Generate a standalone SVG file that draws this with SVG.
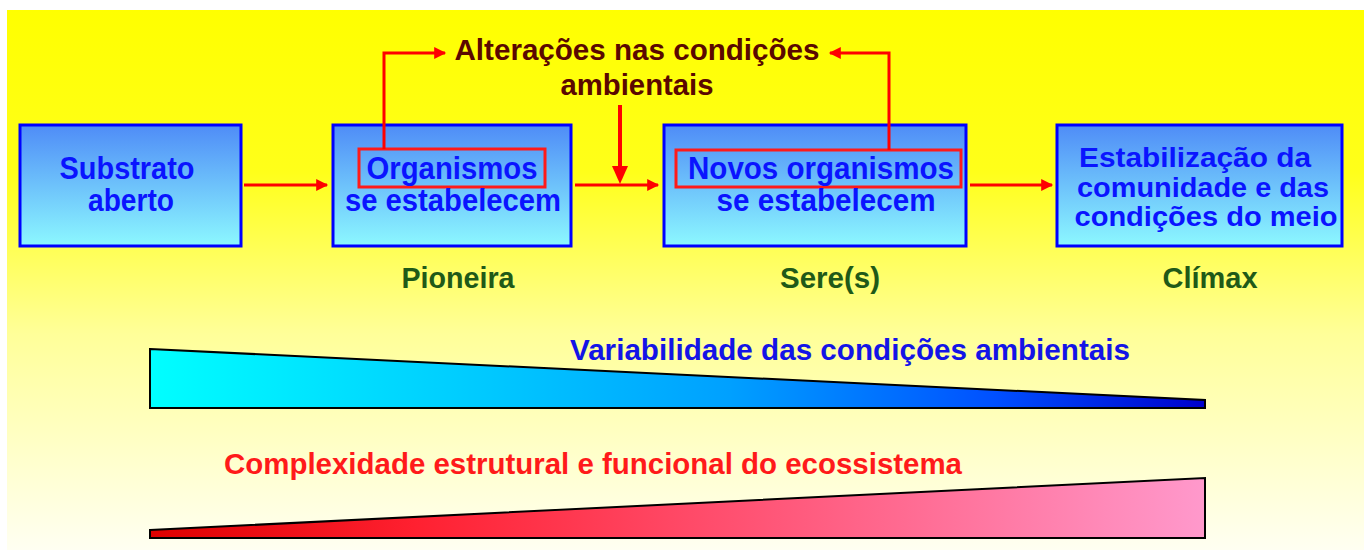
<svg xmlns="http://www.w3.org/2000/svg" width="1364" height="550" viewBox="0 0 1364 550">
<defs>
<linearGradient id="bg" x1="0" y1="0" x2="0" y2="1">
<stop offset="0" stop-color="#ffff00"/>
<stop offset="0.3" stop-color="#ffff1a"/>
<stop offset="0.6" stop-color="#ffff99"/>
<stop offset="1" stop-color="#fffff2"/>
</linearGradient>
<linearGradient id="boxg" x1="0" y1="0" x2="0" y2="1">
<stop offset="0" stop-color="#4f8cf7"/>
<stop offset="1" stop-color="#8cf8ff"/>
</linearGradient>
<linearGradient id="blueg" x1="0" y1="0" x2="1" y2="0">
<stop offset="0" stop-color="#00ffff"/>
<stop offset="0.3" stop-color="#00ccff"/>
<stop offset="0.55" stop-color="#00a0ff"/>
<stop offset="0.8" stop-color="#0050ff"/>
<stop offset="1" stop-color="#0000cc"/>
</linearGradient>
<linearGradient id="redg" x1="0" y1="0" x2="1" y2="0">
<stop offset="0" stop-color="#dd0000"/>
<stop offset="0.25" stop-color="#ff2030"/>
<stop offset="0.55" stop-color="#ff5070"/>
<stop offset="1" stop-color="#ff99cc"/>
</linearGradient>
<marker id="ah" viewBox="0 0 10 10" refX="9" refY="5" markerWidth="4.5" markerHeight="4" orient="auto" markerUnits="strokeWidth">
<path d="M0,0 L10,5 L0,10 z" fill="#ff0000"/>
</marker>
</defs>
<style>
text{font-family:"Liberation Sans",Arial,sans-serif;font-weight:bold;font-size:29px}
.bt{fill:#0a14ff;font-size:31px}
.bt4{fill:#0a14ff;font-size:28px}
.box{fill:url(#boxg);stroke:#0000ff;stroke-width:3}
.hl{fill:none;stroke:#ff1a1a;stroke-width:3}
.lbl{fill:#1f5a18;text-anchor:middle}
.ttl{fill:#5a0800;text-anchor:middle;font-size:30px}
.con{fill:none;stroke:#ff0000;stroke-width:3;marker-end:url(#ah)}
</style>
<rect x="7" y="10" width="1357" height="540" fill="url(#bg)"/>

<g id="title">
<text class="ttl" x="637" y="60" textLength="365" lengthAdjust="spacingAndGlyphs">Alterações nas condições</text>
<text class="ttl" x="637" y="95" textLength="153" lengthAdjust="spacingAndGlyphs">ambientais</text>
</g>

<g id="node-substrato">
<rect class="box" x="20" y="125" width="221" height="121"/>
<text class="bt" x="127" y="179" text-anchor="middle" textLength="135" lengthAdjust="spacingAndGlyphs">Substrato</text>
<text class="bt" x="131" y="211" text-anchor="middle" textLength="86" lengthAdjust="spacingAndGlyphs">aberto</text>
</g>

<g id="node-pioneira">
<rect class="box" x="333" y="125" width="238" height="121"/>
<rect class="hl" x="359" y="149" width="186" height="38"/>
<text class="bt" x="452" y="179" text-anchor="middle" textLength="171" lengthAdjust="spacingAndGlyphs">Organismos</text>
<text class="bt" x="453" y="211" text-anchor="middle" textLength="216" lengthAdjust="spacingAndGlyphs">se estabelecem</text>
</g>

<g id="node-sere">
<rect class="box" x="664" y="125" width="302" height="121"/>
<rect class="hl" x="676" y="150" width="285" height="37"/>
<text class="bt" x="821" y="179" text-anchor="middle" textLength="266" lengthAdjust="spacingAndGlyphs">Novos organismos</text>
<text class="bt" x="826" y="211" text-anchor="middle" textLength="219" lengthAdjust="spacingAndGlyphs">se estabelecem</text>
</g>

<g id="node-climax">
<rect class="box" x="1057" y="125" width="285" height="121"/>
<text class="bt4" x="1195" y="167" text-anchor="middle" textLength="232" lengthAdjust="spacingAndGlyphs">Estabilização da</text>
<text class="bt4" x="1203" y="197" text-anchor="middle" textLength="252" lengthAdjust="spacingAndGlyphs">comunidade e das</text>
<text class="bt4" x="1206" y="226" text-anchor="middle" textLength="263" lengthAdjust="spacingAndGlyphs">condições do meio</text>
</g>

<g id="stage-labels">
<text class="lbl" x="458" y="288" textLength="113" lengthAdjust="spacingAndGlyphs">Pioneira</text>
<text class="lbl" x="830" y="288" textLength="100" lengthAdjust="spacingAndGlyphs">Sere(s)</text>
<text class="lbl" x="1210" y="288" textLength="95" lengthAdjust="spacingAndGlyphs">Clímax</text>
</g>

<g id="connectors">
<line class="con" x1="244" y1="185" x2="327" y2="185"/>
<line class="con" x1="575" y1="185" x2="658" y2="185"/>
<line class="con" x1="970" y1="185" x2="1052" y2="185"/>
<polyline class="con" points="384,149 384,53 445,53"/>
<polyline class="con" points="889,150 889,53 830,53"/>
<line x1="620" y1="105" x2="620" y2="170" stroke="#ff0000" stroke-width="4"/>
<path d="M612,166 L628,166 L620,184 z" fill="#ff0000"/>
</g>

<g id="variability">
<polygon points="150,349 1205,400 1205,408 150,408" fill="url(#blueg)" stroke="#000" stroke-width="2"/>
<text x="570" y="360" fill="#1414e6" textLength="560" lengthAdjust="spacingAndGlyphs">Variabilidade das condições ambientais</text>
</g>

<g id="complexity">
<polygon points="150,530 1205,478 1205,538 150,538" fill="url(#redg)" stroke="#000" stroke-width="2"/>
<text x="224" y="474" fill="#ff1a1a" textLength="738" lengthAdjust="spacingAndGlyphs">Complexidade estrutural e funcional do ecossistema</text>
</g>
</svg>
